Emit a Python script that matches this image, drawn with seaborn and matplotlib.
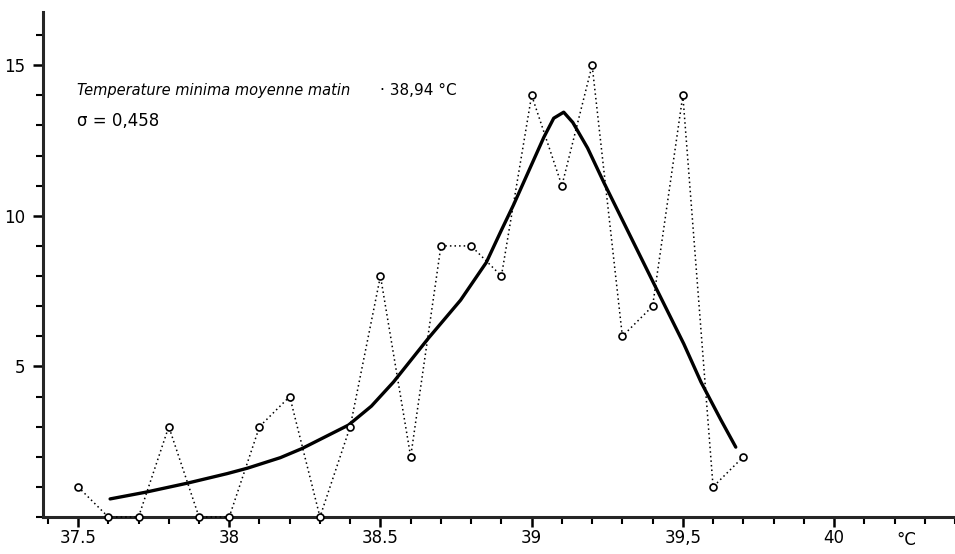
import numpy as np
import pandas as pd
import matplotlib
matplotlib.use("Agg")
import matplotlib.pyplot as plt
import seaborn as sns
from matplotlib.ticker import MultipleLocator, FixedLocator

# observed frequencies (dotted polygon)
temps = [37.5, 37.6, 37.7, 37.8, 37.9, 38.0, 38.1, 38.2, 38.3, 38.4, 38.5, 38.6,
         38.7, 38.8, 38.9, 39.0, 39.1, 39.2, 39.3, 39.4, 39.5, 39.6, 39.7]
counts = [1, 0, 0, 3, 0, 0, 3, 4, 0, 3, 8, 2,
          9, 9, 8, 14, 11, 15, 6, 7, 14, 1, 2]

# hand drawn fitted curve
curve_x = [37.606, 37.722, 37.86, 37.993, 38.06, 38.169, 38.24, 38.394, 38.47,
           38.543, 38.659, 38.765, 38.85, 38.897, 38.94, 39.04, 39.073, 39.106,
           39.136, 39.185, 39.24, 39.338, 39.41, 39.503, 39.56, 39.626, 39.675]
curve_y = [0.60, 0.82, 1.12, 1.44, 1.62, 1.97, 2.27, 3.05, 3.68,
           4.48, 5.94, 7.20, 8.45, 9.46, 10.36, 12.6, 13.24, 13.44,
           13.1, 12.25, 11.08, 9.09, 7.63, 5.75, 4.48, 3.22, 2.32]

xtick_pos = [37.5, 38.0, 38.5, 39.0, 39.5, 40.0]
xtick_lab = ["37.5", "38", "38.5", "39", "39,5", "40"]

obs = pd.DataFrame({"temp": temps, "n": counts})
fit = pd.DataFrame({"temp": curve_x, "n": curve_y})

sns.set_style("ticks")
plt.rcParams["font.family"] = ["DejaVu Sans"]
plt.rcParams["text.color"] = "black"

fig = plt.figure(figsize=(9.55, 5.54), dpi=100)
ax = fig.add_axes([0.045, 0.0668, 0.955, 0.9112])

sns.lineplot(data=obs, x="temp", y="n", ax=ax, color="black", lw=1.1,
             linestyle=(0, (1, 2)), marker="o", markersize=5,
             markerfacecolor="white", markeredgecolor="black",
             markeredgewidth=1.2, clip_on=False, zorder=3)
sns.lineplot(data=fit, x="temp", y="n", ax=ax, color="black", lw=2.4,
             solid_joinstyle="round", solid_capstyle="round", zorder=2)

ax.set_xlim(37.384, 40.4)
ax.set_ylim(0, 16.76)

for s in ["top", "right"]:
    ax.spines[s].set_visible(False)
ax.spines["left"].set_linewidth(2.2)
ax.spines["bottom"].set_linewidth(2.2)

ax.xaxis.set_major_locator(FixedLocator(xtick_pos))
ax.set_xticklabels(xtick_lab)
ax.xaxis.set_minor_locator(MultipleLocator(0.1))
ax.yaxis.set_major_locator(FixedLocator([5, 10, 15]))
ax.yaxis.set_minor_locator(MultipleLocator(1))
ax.tick_params(axis="both", which="both", bottom=True, left=True,
               top=False, right=False)
ax.tick_params(axis="both", which="major", direction="out", length=7,
               width=1.8, labelsize=12, color="black", labelcolor="black")
ax.tick_params(axis="both", which="minor", direction="out", length=5,
               width=1.5, color="black")
ax.tick_params(axis="x", pad=2)
ax.tick_params(axis="y", pad=6)

ax.set_xlabel("")
ax.set_ylabel("")
ax.text(40.24, -0.45, "°C", fontsize=12, ha="center", va="top",
        color="black")

ax.text(37.495, 14.15, "Temperature minima moyenne matin", fontsize=10.5,
        style="italic", va="center", color="black")
ax.text(38.5, 14.15, "· 38,94 °C", fontsize=11, va="center", color="black")
ax.text(37.495, 13.15, "σ = 0,458", fontsize=12, va="center", color="black")

fig.savefig("out.png", dpi=100, facecolor="white")
